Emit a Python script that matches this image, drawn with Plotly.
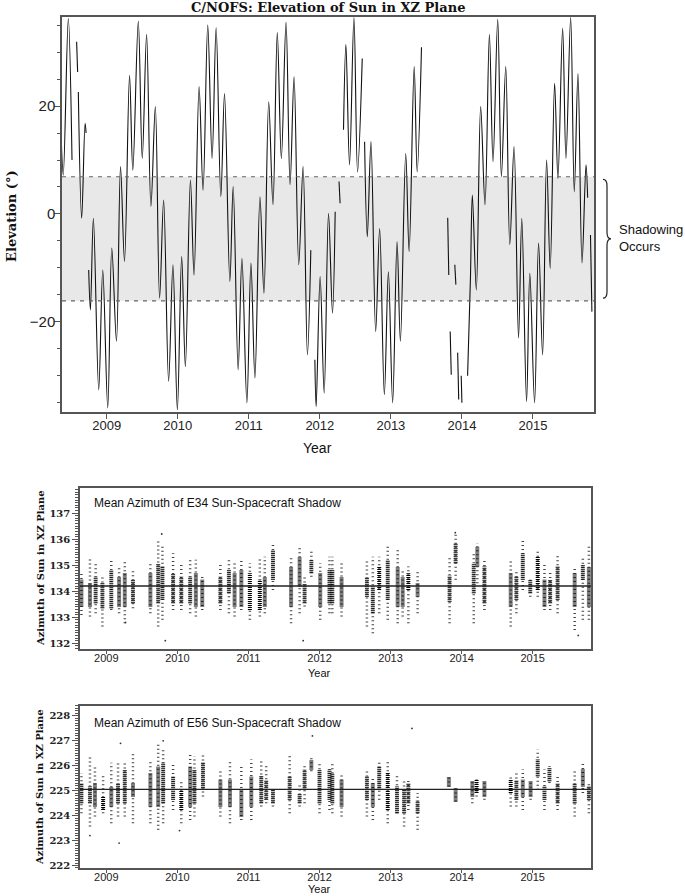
import plotly.graph_objects as go

# --- top panel: elevation of sun (deg), None = data gap
elev_t = [2008.356, 2008.388, 2008.459, 2008.511, None,
          2008.576, 2008.590, None,
          2008.600, 2008.647, 2008.695, 2008.709, None,
          2008.746, 2008.770, 2008.812, 2008.887, 2008.944, 2009.014, 2009.071, 2009.137,
          2009.194, 2009.250, 2009.321, 2009.367, 2009.444, 2009.500, 2009.561, 2009.622,
          2009.684, 2009.744, 2009.801, 2009.871, 2009.932, 2009.994, 2010.055, 2010.107,
          2010.178, 2010.229, 2010.300, 2010.356, 2010.422, 2010.483, 2010.540, 2010.606,
          2010.658, 2010.733, 2010.780, 2010.850, 2010.903, 2010.973, 2011.030, 2011.086,
          2011.157, 2011.213, 2011.280, 2011.340, 2011.401, 2011.458, 2011.524, 2011.581,
          2011.637, 2011.703, 2011.764, 2011.825, 2011.873, None,
          2011.930, 2011.948, 2012.004, 2012.061, 2012.122, 2012.178, 2012.216, None,
          2012.270, 2012.285, None,
          2012.333, 2012.367, 2012.418, 2012.480, 2012.531, 2012.597, None,
          2012.630, 2012.668, 2012.720, 2012.786, 2012.842, 2012.908, 2012.965, 2013.025,
          2013.087, 2013.134, 2013.209, 2013.257, 2013.328, 2013.370, 2013.431, None,
          2013.800, 2013.815, None, 2013.835, 2013.850, None, 2013.900, 2013.915, None,
          2013.940, 2013.955, None, 2013.990, 2014.000, None,
          2014.080, 2014.120, 2014.147, 2014.203, 2014.264, 2014.325, 2014.387, 2014.438,
          2014.504, 2014.556, 2014.617, 2014.674, 2014.734, 2014.797, 2014.843, 2014.910,
          2014.956, 2015.023, 2015.079, 2015.136, 2015.192, 2015.243, 2015.305, 2015.352,
          2015.418, 2015.465, 2015.531, 2015.582, 2015.634, 2015.691, 2015.747, 2015.770, None,
          2015.810, 2015.830]
elev_v = [15.2, 7.2, 36.2, 10.0, None,
          31.9, 26.3, None,
          22.6, -0.8, 16.8, 15.0, None,
          -10.4, -17.8, -0.8, -32.6, -10.4, -35.9, -6.3, -23.6,
          8.8, -8.8, 25.7, 8.1, 35.7, 10.3, 33.3, 1.4,
          19.9, -15.6, 2.6, -31.0, -9.4, -36.3, -7.9, -28.3,
          6.3, -11.3, 23.6, 4.4, 35.0, 10.3, 34.5, 3.2,
          22.3, -12.5, 5.1, -28.9, -8.2, -35.0, -9.1, -30.4,
          3.2, -14.7, 20.8, 1.7, 33.6, 10.3, 35.5, 5.4,
          25.4, -9.4, 8.8, -26.1, -6.7, None,
          -27.0, -35.7, -11.6, -33.2, 0.1, -18.4, 0.4, None,
          6.0, 2.0, None,
          15.6, 31.4, 9.1, 36.4, 7.8, 28.8, None,
          13.4, -4.2, 13.4, -21.8, -2.7, -33.5, -10.7, -35.0,
          -5.1, -23.6, 11.2, -7.0, 27.3, 7.8, 30.9, None,
          -0.7, -11.3, None, -21.8, -29.8, None, -9.4, -13.1, None,
          -25.7, -34.4, None, -30.0, -35.0, None,
          -30.0, -12.0, 3.5, -14.1, 19.9, 1.7, 33.3, 9.7,
          36.1, 6.9, 27.3, -5.7, 12.5, -23.0, -0.8, -34.8,
          -11.0, -35.0, -5.4, -26.1, 10.0, -10.1, 24.2, 6.6,
          34.4, 10.3, 36.4, 4.1, 26.0, -9.1, 9.1, 3.0, None,
          -3.9, -18.1]

SHADOW_TOP = 6.9
SHADOW_BOTTOM = -16.1

# --- middle panel: E34 azimuth clusters (time, full spread, dense core)
az34_t = [2008.65, 2008.77, 2008.85, 2008.945, 2009.07, 2009.18, 2009.26, 2009.375,
          2009.62, 2009.73, 2009.79, 2009.94, 2010.055, 2010.18, 2010.26, 2010.35,
          2010.605, 2010.725, 2010.805, 2010.90, 2011.02, 2011.16, 2011.23, 2011.345,
          2011.60, 2011.72, 2011.79, 2011.885, 2012.01, 2012.14, 2012.18, 2012.31,
          2012.667, 2012.75, 2012.84, 2012.96, 2013.10, 2013.17, 2013.25, 2013.38,
          2013.83, 2013.915, 2014.17, 2014.22, 2014.32,
          2014.69, 2014.77, 2014.86, 2014.965, 2015.07, 2015.165, 2015.245, 2015.35,
          2015.59, 2015.705, 2015.79]
az34_lo = [133.09, 133.03, 133.15, 132.64, 133.28, 133.15, 132.77, 133.35,
           133.15, 132.64, 132.90, 133.28, 133.28, 133.15, 133.03, 133.28,
           133.28, 133.15, 133.03, 133.28, 132.90, 133.03, 133.15, 134.05,
           132.77, 133.15, 133.41, 134.56, 132.90, 133.15, 133.15, 133.03,
           132.64, 132.38, 133.15, 132.90, 132.77, 133.03, 132.77, 133.15,
           132.77, 134.44, 132.77, 134.31, 133.28,
           132.64, 133.15, 134.05, 133.79, 133.79, 133.28, 133.28, 133.15,
           132.51, 132.90, 132.90]
az34_hi = [134.69, 135.33, 135.08, 134.56, 135.21, 134.88, 135.21, 134.82,
           135.08, 135.97, 135.72, 135.46, 135.08, 135.21, 135.21, 134.56,
           135.08, 135.21, 135.08, 135.21, 135.08, 135.33, 135.33, 135.85,
           135.33, 135.72, 134.56, 135.59, 135.08, 135.33, 135.33, 135.08,
           135.21, 135.33, 135.33, 135.72, 135.59, 134.82, 134.95, 134.82,
           135.33, 136.23, 135.46, 135.85, 135.21,
           135.21, 134.82, 135.97, 134.56, 135.59, 135.08, 134.82, 135.46,
           134.95, 135.33, 135.72]
az34_core_lo = [133.41, 133.41, 133.54, 133.35, 133.35, 133.41, 133.41, 133.54,
                133.41, 133.54, 133.67, 133.54, 133.54, 133.54, 133.41, 133.41,
                133.54, 133.92, 133.41, 133.41, 133.28, 133.28, 133.41, 134.44,
                133.41, 134.18, 133.54, 134.69, 133.41, 133.54, 133.54, 133.41,
                133.79, 133.15, 134.05, 133.67, 133.41, 133.41, 134.05, 133.80,
                133.60, 135.08, 133.92, 134.95, 133.54,
                133.41, 133.67, 134.44, 133.92, 134.05, 133.41, 133.54, 133.67,
                133.41, 134.44, 133.41]
az34_core_hi = [134.44, 134.31, 134.56, 134.31, 134.82, 134.56, 134.69, 134.44,
                134.69, 135.08, 134.95, 134.69, 134.56, 134.56, 134.69, 134.44,
                134.56, 134.82, 134.69, 134.82, 134.69, 134.44, 134.56, 135.59,
                134.95, 135.33, 134.31, 135.21, 134.69, 134.82, 134.82, 134.56,
                134.56, 134.18, 134.95, 135.21, 134.95, 134.56, 134.69, 134.30,
                134.60, 135.85, 135.08, 135.72, 134.95,
                134.69, 134.56, 135.46, 134.44, 135.33, 134.44, 134.44, 134.95,
                134.69, 135.01, 134.95]
az34_out_t = [2009.78, 2009.83, 2011.77, 2013.91, 2015.64, 2009.27]
az34_out_v = [136.2, 132.1, 132.1, 136.25, 132.3, 132.8]
AZ34_MEAN = 134.2

# --- bottom panel: E56 azimuth clusters
az56_t = [2008.65, 2008.77, 2008.84, 2008.955, 2009.07, 2009.165, 2009.26, 2009.375,
          2009.62, 2009.73, 2009.80, 2009.94, 2010.055, 2010.18, 2010.24, 2010.36,
          2010.605, 2010.74, 2010.90, 2011.04, 2011.18, 2011.25, 2011.345,
          2011.58, 2011.72, 2011.79, 2011.885, 2012.00, 2012.14, 2012.18, 2012.31,
          2012.667, 2012.75, 2012.84, 2012.96, 2013.09, 2013.19, 2013.25, 2013.38,
          2013.82, 2013.915, 2014.15, 2014.21, 2014.32,
          2014.69, 2014.77, 2014.86, 2014.97, 2015.07, 2015.165, 2015.235, 2015.35,
          2015.59, 2015.705, 2015.79]
az56_lo = [224.10, 223.56, 223.97, 224.10, 223.70, 223.97, 223.97, 223.70,
           223.70, 223.43, 223.70, 224.23, 223.70, 223.83, 223.97, 224.77,
           223.97, 223.70, 223.83, 223.83, 224.37, 224.50, 224.37,
           224.10, 224.37, 224.50, 225.78, 224.10, 224.23, 224.10, 223.97,
           223.97, 223.83, 224.64, 223.70, 224.10, 223.56, 224.23, 223.43,
           225.17, 224.57, 224.50, 224.77, 224.64,
           224.37, 224.37, 224.23, 224.64, 225.04, 224.23, 225.31, 224.23,
           223.97, 224.91, 224.10]
az56_hi = [225.71, 226.38, 225.98, 225.58, 226.12, 226.12, 226.12, 226.52,
           226.25, 226.92, 226.65, 226.12, 225.44, 226.52, 226.38, 226.52,
           225.85, 226.25, 225.98, 226.25, 226.25, 225.98, 225.17,
           226.38, 225.31, 225.98, 226.32, 226.12, 225.98, 226.12, 225.71,
           225.85, 225.58, 226.12, 226.25, 225.58, 225.44, 225.51, 224.91,
           225.55, 225.11, 225.44, 225.51, 225.44,
           225.58, 225.71, 225.85, 225.44, 226.65, 225.85, 225.98, 225.58,
           225.85, 226.12, 225.31]
az56_core_lo = [224.50, 224.50, 224.37, 224.23, 224.37, 224.50, 224.50, 224.77,
                224.37, 224.37, 224.50, 224.64, 224.23, 224.37, 224.50, 225.04,
                224.37, 224.37, 223.97, 224.37, 224.50, 224.64, 224.50,
                224.64, 224.50, 225.04, 225.85, 224.50, 224.64, 224.50, 224.37,
                224.64, 224.37, 225.04, 224.23, 224.10, 224.10, 224.50, 224.10,
                225.17, 224.57, 224.77, 224.91, 224.77,
                224.91, 224.64, 224.77, 224.77, 225.58, 224.64, 225.38, 224.50,
                224.50, 225.17, 224.64]
az56_core_hi = [225.31, 225.17, 225.31, 224.77, 225.17, 225.31, 225.85, 225.31,
                225.71, 225.98, 226.12, 225.58, 225.04, 225.98, 225.85, 226.12,
                225.44, 225.44, 225.04, 225.58, 225.58, 225.44, 225.04,
                225.58, 224.90, 225.85, 226.25, 225.85, 225.85, 225.71, 225.44,
                225.58, 225.31, 225.98, 225.71, 225.17, 225.04, 225.31, 224.60,
                225.55, 225.11, 225.38, 225.44, 225.38,
                225.44, 225.44, 225.44, 225.38, 226.25, 225.17, 225.91, 225.31,
                225.31, 225.85, 225.17]
az56_out_t = [2008.77, 2009.18, 2009.20, 2011.90, 2013.30, 2009.80, 2010.03]
az56_out_v = [223.2, 222.9, 226.9, 227.2, 227.5, 227.0, 223.4]
AZ56_MEAN = 225.05

year_ticks = [2009, 2010, 2011, 2012, 2013, 2014, 2015]


def vsegs(t, lo, hi):
    xs, ys = [], []
    for a, b, c in zip(t, lo, hi):
        xs += [a, a, None]
        ys += [b, c, None]
    return xs, ys


fig = go.Figure()

# elevation curve
fig.add_trace(go.Scatter(x=elev_t, y=elev_v, mode="lines", xaxis="x", yaxis="y",
                         line=dict(color="#111111", width=1.1, shape="spline", smoothing=1.0),
                         connectgaps=False, showlegend=False, hoverinfo="skip"))

# azimuth clouds: sparse spread + dense core
for t, lo, hi, clo, chi, ot, ov, ax in [
        (az34_t, az34_lo, az34_hi, az34_core_lo, az34_core_hi, az34_out_t, az34_out_v, "2"),
        (az56_t, az56_lo, az56_hi, az56_core_lo, az56_core_hi, az56_out_t, az56_out_v, "3")]:
    xs, ys = vsegs(t, lo, hi)
    fig.add_trace(go.Scatter(x=xs, y=ys, mode="lines", xaxis="x" + ax, yaxis="y" + ax,
                             line=dict(color="#444444", width=2.5, dash="1px,3px"),
                             showlegend=False, hoverinfo="skip"))
    xs, ys = vsegs(t, clo, chi)
    fig.add_trace(go.Scatter(x=xs, y=ys, mode="lines", xaxis="x" + ax, yaxis="y" + ax,
                             line=dict(color="#000000", width=4, dash="1px,1px"),
                             showlegend=False, hoverinfo="skip"))
    fig.add_trace(go.Scatter(x=ot, y=ov, mode="markers", xaxis="x" + ax, yaxis="y" + ax,
                             marker=dict(color="#333333", size=1.8),
                             showlegend=False, hoverinfo="skip"))

sans = "Liberation Sans, Arial, sans-serif"
serif = "DejaVu Serif, serif"
box = dict(showline=True, mirror=True, linecolor="#555555", linewidth=1.5,
           showgrid=False, zeroline=False, ticks="outside", tickcolor="#555555",
           automargin=False)

fig.update_layout(
    width=685, height=896, template="none",
    margin=dict(l=0, r=0, t=0, b=0),
    paper_bgcolor="white", plot_bgcolor="white",
    xaxis=dict(box, domain=[0.0905, 0.8672], range=[2008.37, 2015.86], anchor="y",
               tickvals=year_ticks, ticklen=5, ticklabelstandoff=-4,
               tickfont=dict(family=sans, size=13, color="#222")),
    yaxis=dict(box, domain=[0.5402, 0.9810], range=[-36.7, 36.5], anchor="x",
               tickvals=[-20, 0, 20], ticklen=6, ticklabelstandoff=-4,
               minor=dict(dtick=5, ticklen=3, ticks="outside", tickcolor="#555555"),
               tickfont=dict(family=sans, size=15, color="#222")),
    xaxis2=dict(box, domain=[0.1168, 0.8628], range=[2008.63, 2015.82], anchor="y2",
                tickvals=year_ticks, ticklen=3, ticklabelstandoff=-5,
                tickfont=dict(family=sans, size=11, color="#222")),
    yaxis2=dict(box, domain=[0.2757, 0.4554], range=[131.78, 137.97], anchor="x2",
                dtick=1, ticklen=6,
                minor=dict(dtick=0.1, ticklen=3, ticks="outside", tickcolor="#555555"),
                tickfont=dict(family=serif, size=10, color="#222", weight="bold")),
    xaxis3=dict(box, domain=[0.1168, 0.8628], range=[2008.63, 2015.82], anchor="y3",
                tickvals=year_ticks, ticklen=3, ticklabelstandoff=-5,
                tickfont=dict(family=sans, size=11, color="#222")),
    yaxis3=dict(box, domain=[0.03125, 0.2121], range=[221.9, 228.4], anchor="x3",
                dtick=1, ticklen=6,
                minor=dict(dtick=0.1, ticklen=3, ticks="outside", tickcolor="#555555"),
                tickfont=dict(family=serif, size=10, color="#222", weight="bold")),
)

# shadowing band
fig.add_shape(type="rect", xref="x domain", yref="y", x0=0, x1=1,
              y0=SHADOW_BOTTOM, y1=SHADOW_TOP, fillcolor="#e8e8e8", line_width=0, layer="below")
for yv in (SHADOW_TOP, SHADOW_BOTTOM):
    fig.add_shape(type="line", xref="x domain", yref="y", x0=0, x1=1, y0=yv, y1=yv,
                  line=dict(color="#666666", width=1.2, dash="4px,5px"))

# curly brace to the right of the band
bx0, bx1, btip = 603 / 685, 607 / 685, 611 / 685
bt, bb = SHADOW_TOP - 0.5, SHADOW_BOTTOM + 0.5
bm = (bt + bb) / 2
brace = (f"M {bx0},{bt} Q {bx1},{bt} {bx1},{bt - 1.2} L {bx1},{bm + 1.2} "
         f"Q {bx1},{bm} {btip},{bm} Q {bx1},{bm} {bx1},{bm - 1.2} "
         f"L {bx1},{bb + 1.2} Q {bx1},{bb} {bx0},{bb}")
fig.add_shape(type="path", xref="paper", yref="y", path=brace,
              line=dict(color="#222222", width=1.2))

# mean azimuth lines
fig.add_shape(type="line", xref="x2 domain", yref="y2", x0=0, x1=1, y0=AZ34_MEAN, y1=AZ34_MEAN,
              line=dict(color="#222222", width=1.3))
fig.add_shape(type="line", xref="x3 domain", yref="y3", x0=0, x1=1, y0=AZ56_MEAN, y1=AZ56_MEAN,
              line=dict(color="#222222", width=1.3))

ann = [
    dict(text="<b>C/NOFS: Elevation of Sun in XZ Plane</b>", x=0.479, y=0.992,
         font=dict(family=serif, size=13, color="#111")),
    dict(text="<b>Elevation (°)</b>", x=0.0175, y=0.759, textangle=-90,
         font=dict(family=serif, size=13, color="#111")),
    dict(text="Year", x=0.464, y=0.500, font=dict(family=sans, size=14, color="#111")),
    dict(text="Shadowing<br>Occurs", x=0.9007, y=0.7344, xanchor="left", align="left",
         font=dict(family=sans, size=13, color="#111")),
    dict(text="<b>Azimuth of Sun in XZ Plane</b>", x=0.0584, y=0.366, textangle=-90,
         font=dict(family=serif, size=10, color="#111")),
    dict(text="Year", x=0.467, y=0.2489, font=dict(family=sans, size=11, color="#111")),
    dict(text="Mean Azimuth of E34 Sun-Spacecraft Shadow", x=0.1343, y=0.4386, xanchor="left",
         font=dict(family=sans, size=12, color="#111")),
    dict(text="<b>Azimuth of Sun in XZ Plane</b>", x=0.0584, y=0.1217, textangle=-90,
         font=dict(family=serif, size=10, color="#111")),
    dict(text="Year", x=0.467, y=0.0080, font=dict(family=sans, size=11, color="#111")),
    dict(text="Mean Azimuth of E56 Sun-Spacecraft Shadow", x=0.1343, y=0.1931, xanchor="left",
         font=dict(family=sans, size=12, color="#111")),
]
for a in ann:
    a.setdefault("xanchor", "center")
    fig.add_annotation(xref="paper", yref="paper", yanchor="middle", showarrow=False, **a)

# the page body has a default margin; drop it so the figure sits at the window's corner
fig.write_html("out.html", config={"displayModeBar": False},
               post_script="document.body.style.margin='0';")
